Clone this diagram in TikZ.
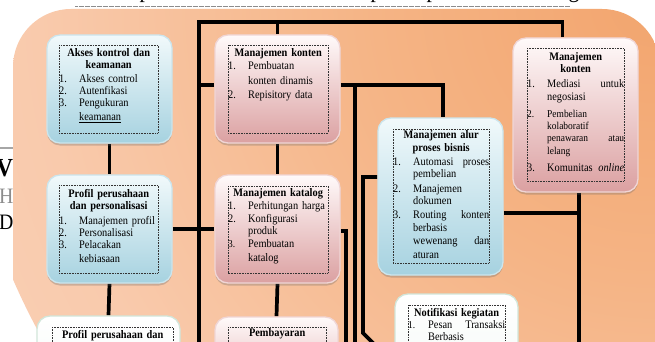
\documentclass[tikz,border=0pt]{standalone}
\usepackage{fontspec}
\setmainfont{Liberation Serif}[FakeStretch=0.9]
\usetikzlibrary{shadows}

% colours
\definecolor{panelA}{HTML}{F2A56E}
\definecolor{panelB}{HTML}{F5B485}
\definecolor{panelC}{HTML}{F9CAAC}
\definecolor{panelD}{HTML}{FBD9C5}
\definecolor{panelE}{HTML}{FBDCC8}
\definecolor{bluetop}{HTML}{F1F9FB}
\definecolor{bluebot}{HTML}{A6D2E0}
\definecolor{bluerim}{HTML}{CBE5ED}
\definecolor{pinktop}{HTML}{FFFAFA}
\definecolor{pinkbot}{HTML}{DBA0A1}
\definecolor{pinkrim}{HTML}{F0D6D6}
\definecolor{whitebot}{HTML}{F4F9F6}
\definecolor{whiterim}{HTML}{D2E6DA}

\pgfdeclareradialshading{panelglow}{\pgfpoint{0bp}{0bp}}{%
  color(0bp)=(panelA); color(10bp)=(panelB); color(22bp)=(panelC);
  color(38bp)=(panelD); color(50bp)=(panelE)}

\pgfdeclarelayer{backdrop}
\pgfdeclarelayer{wires}
\pgfsetlayers{backdrop,wires,main}

% text helpers for the list boxes
\lineskiplimit=-100pt
\newcommand\bodysize{\fontsize{11.5}{12}\selectfont}
\newcommand\smallsize{\fontsize{10.5}{12}\selectfont}
\newcommand\bxT[1]{\hbox to\hsize{\hfil\bfseries #1\hfil}}
\newcommand\bxI[2]{\hbox to\hsize{\hbox to 20pt{#1\hfil}#2\hfil}}
\newcommand\bxJ[3]{\hbox to\hsize{\hbox to 20pt{#1\hfil}#2\hfil #3}}
\newcommand\bxC[1]{\hbox to\hsize{\hskip 20pt #1\hfil}}
\newcommand\bxK[2]{\hbox to\hsize{\hskip 20pt #1\hfil #2}}
\newcommand\bxG[1]{\vskip #1pt}

\begin{document}
\begin{tikzpicture}[x=1pt,y=-1pt,
  card/.style={rectangle, rounded corners=13pt, inner sep=0pt, line width=1.3pt,
    minimum width=125pt, minimum height=108pt},
  softshadow/.style={drop shadow={shadow xshift=0pt, shadow yshift=-2.5pt, opacity=0.3, fill=black!60}},
  bluecard/.style={card, softshadow, draw=bluerim, top color=bluetop, bottom color=bluebot},
  pinkcard/.style={card, softshadow, draw=pinkrim, top color=pinktop, bottom color=pinkbot},
  whitecard/.style={card, softshadow, draw=whiterim, top color=white, bottom color=whitebot},
  frame/.style={draw=black!80, line width=0.6pt, dash pattern=on 0.8pt off 0.8pt},
  wire/.style={draw=black, line width=3.7pt},
  boxtext/.style={anchor=base west, inner sep=0pt, text width=#1, font=\bodysize},
  fragment/.style={inner sep=0pt, anchor=base west},
]
\useasboundingbox (0,0) rectangle (655,342);

\begin{pgfonlayer}{backdrop}
  \fill[white] (0,0) rectangle (655,342);
  % page text peeking out round the panel
  \node[fragment, font=\fontsize{26}{26}\selectfont\bfseries] (fragV) at (-4,176) {V};
  \node[fragment, font=\fontsize{22}{22}\selectfont, text=black!45] (fragH) at (-1,203) {H};
  \node[fragment, font=\fontsize{22}{22}\selectfont] (fragD) at (-1,229) {D};
  \draw[black!35, line width=1.4pt] (0,148) -- (14,148);
  \node[inner sep=0pt, anchor=base, font=\fontsize{24}{24}\selectfont] (fragP1) at (145,-2.2) {p};
  \node[inner sep=0pt, anchor=base, font=\fontsize{24}{24}\selectfont] (fragP2) at (376,-2.2) {p};
  \node[inner sep=0pt, anchor=base, font=\fontsize{24}{24}\selectfont] (fragP3) at (432,-2.2) {p};
  \node[inner sep=0pt, anchor=base, font=\fontsize{24}{24}\selectfont] (fragG) at (574,-2.2) {g};
  \draw[black!45, line width=0.6pt, dash pattern=on 0.6pt off 0.6pt] (75,6.5) -- (570,6.5);
  % peach panel
  \begin{scope}
    \clip[rounded corners=58pt] (13,9) rectangle (660,420);
    \shade[shading=panelglow] (655,0) circle (700pt);
  \end{scope}
\end{pgfonlayer}

% boxes
\node[bluecard] (A) at (109.5,89) {};
\node[bluecard] (B) at (109.5,229) {};
\node[whitecard, minimum width=143pt, minimum height=90pt] (G) at (108.5,361) {};
\node[pinkcard] (C1) at (277.5,89) {};
\node[pinkcard] (C2) at (277.5,229) {};
\node[pinkcard, minimum width=123pt, minimum height=90pt] (H) at (276.5,362) {};
\node[bluecard, minimum height=157pt] (E) at (440.5,196.5) {};
\node[pinkcard, minimum height=154pt] (D) at (575.5,115) {};
\node[whitecard, minimum width=123pt, minimum height=90pt] (F) at (456.5,339) {};

% dotted text frames
\draw[frame] (59,45) rectangle (158,133);
\draw[frame] (59,185) rectangle (158,273);
\draw[frame] (52,327) rectangle (173,420);
\draw[frame] (228,45) rectangle (328,133);
\draw[frame] (228,186) rectangle (328,273);
\draw[frame] (228,327) rectangle (326,420);
\draw[frame] (393,129) rectangle (489,263);
\draw[frame] (527,48) rectangle (624,181);
\draw[frame] (408,305) rectangle (505,420);

% box texts
\node[boxtext=99pt] (tA) at (59,57) {%
  \bxT{Akses kontrol dan}
  \bxT{keamanan}
  \bxG{2}\bxI{1.}{Akses control}
  \bxI{2.}{Autenfikasi}
  \bxI{3.}{Pengukuran}
  \bxG{2}\bxC{\underline{keamanan}}};
\node[boxtext=99pt] (tB) at (59,197) {%
  \bxT{Profil perusahaan}
  \bxT{dan personalisasi}
  \bxG{3}\bxI{1.}{Manajemen profil}
  \bxI{2.}{Personalisasi}
  \bxI{3.}{Pelacakan}
  \bxG{2}\bxC{kebiasaan}};
\node[boxtext=121pt] (tG) at (52,338) {\bxT{Profil perusahaan dan}};
\node[boxtext=100pt] (tC1) at (228,57) {%
  \bxT{Manajemen konten}
  \bxG{1}\bxI{1.}{Pembuatan}
  \bxG{3}\bxC{konten dinamis}
  \bxG{2}\bxI{2.}{Repisitory data}};
\node[boxtext=100pt] (tC2) at (228,196) {%
  \bxT{Manajemen katalog}
  \bxG{1}\bxI{1.}{Perhitungan harga}
  \bxG{1}\bxI{2.}{Konfigurasi}
  \bxC{produk}
  \bxG{1}\bxI{\smallsize 3.}{Pembuatan}
  \bxG{2}\bxC{katalog}};
\node[boxtext=98pt] (tH) at (228,336) {\bxT{Pembayaran}};
\node[boxtext=96pt] (tE) at (393,139) {%
  \bxT{Manajemen alur}
  \bxG{1}\bxT{proses bisnis}
  \bxG{1}\bxJ{1.}{Automasi}{proses}
  \bxG{1}\bxC{pembelian}
  \bxG{2}\bxI{2.}{Manajemen}
  \bxC{dokumen}
  \bxG{2}\bxJ{3.}{Routing}{konten}
  \bxG{1}\bxC{berbasis}
  \bxG{1}\bxK{wewenang}{dan}
  \bxG{2}\bxC{aturan}};
\node[boxtext=97pt] (tD) at (527,61) {%
  \bxT{Manajemen}
  \bxT{konten}
  \bxG{3}\bxJ{1.}{Mediasi}{untuk}
  \bxG{1}\bxC{negosiasi}
  \bxG{5}\bxI{\smallsize 2.}{\smallsize Pembelian}
  \bxC{\smallsize kolaboratif}
  \bxK{\smallsize penawaran}{\smallsize atau}
  \bxG{1}\bxC{\smallsize lelang}
  \bxG{5}\bxJ{3.}{Komunitas}{\textit{online}}};
\node[boxtext=97pt] (tF) at (408,316) {%
  \bxT{Notifikasi kegiatan}
  \bxJ{\smallsize 1.}{Pesan}{Transaksi}
  \bxC{Berbasis}};

% connectors
\begin{pgfonlayer}{wires}
  \coordinate (trunkT) at (199,22);
  \coordinate (trunkB) at (199,350);
  \coordinate (dN) at ([xshift=50pt]D.north west);
  \coordinate (c1w) at ([yshift=4pt]C1.west);
  \coordinate (c1e) at ([yshift=4pt]C1.east);
  \coordinate (eN) at ([xshift=2.5pt]E.north);
  \coordinate (tapA) at ([xshift=14pt]c1e);
  \coordinate (c2e) at ([yshift=-2pt]C2.east);
  \coordinate (c2drop) at ([xshift=5pt]c2e);
  \coordinate (eW) at ([yshift=19.5pt]E.west);
  \coordinate (eKnee) at (363,333);
  \coordinate (eTail) at (386,356);
  \coordinate (eE) at ([yshift=-16.5pt]E.east);
  \coordinate (dS) at ([xshift=3.5pt]D.south);

  \draw[wire] (dN) |- (trunkT) -- (trunkB);
  \draw[wire] (A.south) -- (B.north);
  \draw[wire] (B.south) -- (G.north);
  \draw[wire] (B.east) -- (C2.west);
  \draw[wire] (C1.north) -- (C1.north |- trunkT);
  \draw[wire] (c1w) -- (c1w -| trunkT);
  \draw[wire] (c1e) -| (eN);
  \draw[wire] (tapA) -- (tapA |- trunkB);
  \draw[wire] (C1.south) -- (C2.north);
  \draw[wire] (C2.south) -- (H.north);
  \draw[wire] (c2e) -- (c2drop) -- (c2drop |- trunkB);
  \draw[wire] (eW) -| (eKnee) -- (eTail);
  \draw[wire] (dS) -- (dS |- trunkB);
  \draw[wire] (eE) -- (eE -| dS);
\end{pgfonlayer}
\end{tikzpicture}
\end{document}
